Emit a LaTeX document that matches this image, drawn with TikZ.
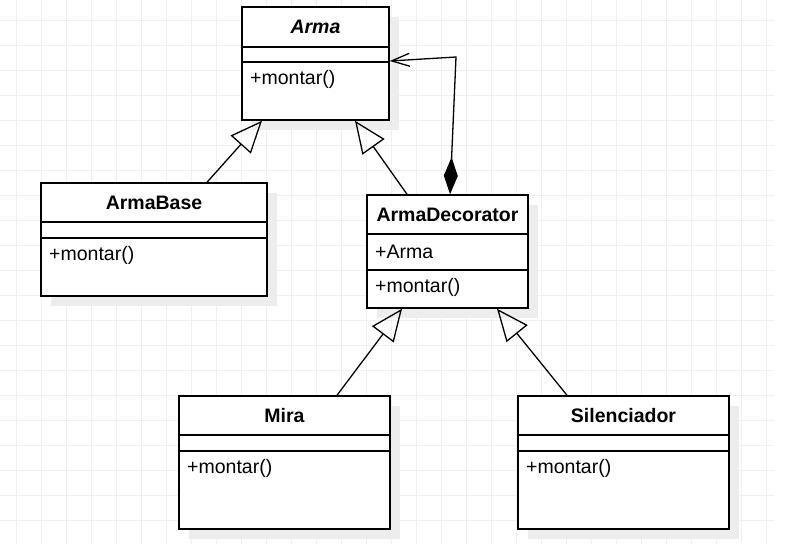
\documentclass[tikz,border=0pt]{standalone}
\usepackage{fontspec}
\setmainfont{Liberation Sans}
\usetikzlibrary{arrows.meta,shadows}

\begin{document}
\begin{tikzpicture}
[x=1pt,y=-1pt,
 gridline/.style={draw=black!6,line width=1pt},
 umlbox/.style={draw=black,line width=1.5pt,fill=white,inner sep=0pt,
   drop shadow={shadow xshift=10pt,shadow yshift=-10pt,fill=black!7,opacity=1}},
 divider/.style={draw=black,line width=1.5pt},
 title/.style={font=\fontsize{19.5}{23}\selectfont\bfseries,inner sep=0pt},
 member/.style={font=\fontsize{19.5}{23}\selectfont,anchor=west,inner sep=0pt},
 inherit/.style={line width=1.3pt,-{Triangle[open,length=32pt,width=27pt,line width=1.3pt]}},
 compose/.style={line width=1.3pt,{Diamond[length=37pt,width=14pt]}-{Straight Barb[length=18pt,width=13pt,line width=1.3pt]}}]
\useasboundingbox (0,0) rectangle (794,544);
% background grid
\foreach \x in {16,41,...,769}
  \draw[gridline] (\x,0) -- (\x,544);
\foreach \y in {20,45,...,520}
  \draw[gridline] (0,\y) -- (774,\y);

% classes
\node[umlbox,minimum width=147pt,minimum height=113pt] (arma) at (315.5,63.5) {};
\node[umlbox,minimum width=226pt,minimum height=113pt] (base) at (154,239.5) {};
\node[umlbox,minimum width=161pt,minimum height=113pt] (deco) at (447.5,251.5) {};
\node[umlbox,minimum width=211pt,minimum height=133pt] (mira) at (284.5,462.5) {};
\node[umlbox,minimum width=211pt,minimum height=133pt] (silen) at (623.5,462.5) {};

\draw[divider] (242,47) -- (389,47);
\draw[divider] (242,62) -- (389,62);
\draw[divider] (41,222) -- (267,222);
\draw[divider] (41,238) -- (267,238);
\draw[divider] (367,234) -- (528,234);
\draw[divider] (367,270) -- (528,270);
\draw[divider] (179,435) -- (390,435);
\draw[divider] (179,451) -- (390,451);
\draw[divider] (518,435) -- (729,435);
\draw[divider] (518,451) -- (729,451);

\node[title] (armaname) at (315.5,27) {\itshape Arma};
\node[member] (armaop) at (250,79.5) {+montar()};
\node[title] (basename) at (154,202.5) {ArmaBase};
\node[member] (baseop) at (49,255.5) {+montar()};
\node[title] (deconame) at (447.5,214.5) {ArmaDecorator};
\node[member] (decoattr) at (375,252) {+Arma};
\node[member] (decoop) at (375,287) {+montar()};
\node[title] (miraname) at (284.5,415.5) {Mira};
\node[member] (miraop) at (187,468) {+montar()};
\node[title] (silenname) at (623.5,415.5) {Silenciador};
\node[member] (silenop) at (526,468) {+montar()};

% relations
\draw[inherit] ([xshift=53pt]base.north) -- ([xshift=-53.5pt]arma.south);
\draw[inherit] ([xshift=-40.5pt]deco.north) -- ([xshift=39.5pt]arma.south);
\draw[inherit] ([xshift=52.5pt]mira.north) -- ([xshift=-45.5pt]deco.south);
\draw[inherit] ([xshift=-56.5pt]silen.north) -- ([xshift=49.5pt]deco.south);
\coordinate (bend) at (456,57);
\draw[compose] ([xshift=2.5pt]deco.north) -- (bend) -- ([yshift=2.5pt]arma.east);
\end{tikzpicture}
\end{document}
